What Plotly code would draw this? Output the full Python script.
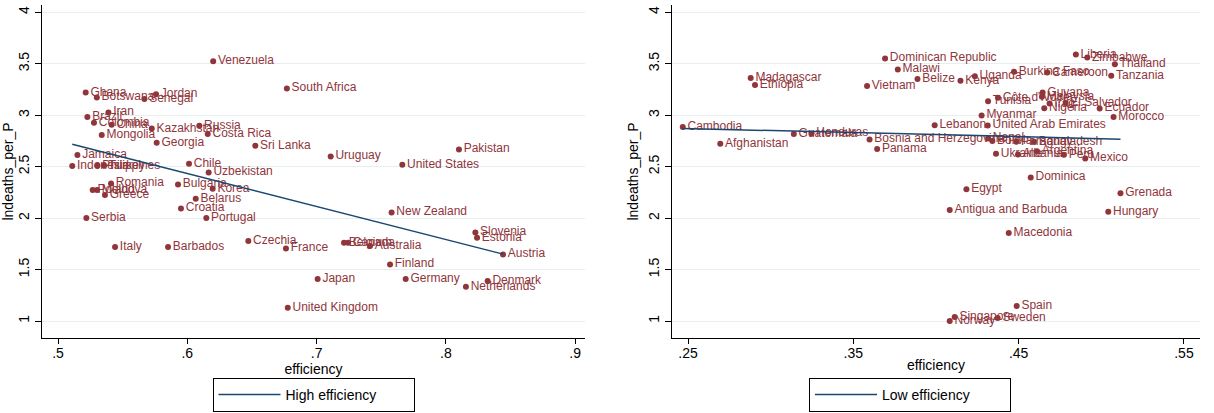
import plotly.graph_objects as go

# ---------------- data: high efficiency panel ----------------
high_countries = ["Venezuela", "South Africa", "Ghana", "Botswana", "Jordan", "Senegal",
                  "Iran", "Brazil", "Colombia", "China", "Mongolia", "Kazakhstan", "Russia",
                  "Costa Rica", "Georgia", "Sri Lanka", "Uruguay", "Jamaica", "Indonesia",
                  "Philippines", "Turkey", "Chile", "Uzbekistan", "Romania", "Bulgaria",
                  "Korea", "Belarus", "Croatia", "Portugal", "Serbia", "Poland", "Moldova",
                  "Greece", "Italy", "Barbados", "Czechia", "France", "New Zealand",
                  "Slovenia", "Estonia", "Austria", "Belgium", "Canada", "Australia",
                  "Finland", "Germany", "Netherlands", "Denmark", "Japan", "United Kingdom",
                  "Pakistan", "United States"]
high_eff = [0.620, 0.677, 0.5214, 0.530, 0.5758, 0.5668,
            0.539, 0.5227, 0.5278, 0.5415, 0.5338, 0.5725, 0.6093,
            0.6158, 0.5763, 0.6526, 0.7109, 0.515, 0.511,
            0.5305, 0.5356, 0.6013, 0.6165, 0.541, 0.5928,
            0.6196, 0.6065, 0.5951, 0.6147, 0.5219, 0.5268, 0.5302,
            0.5363, 0.5441, 0.5851, 0.6472, 0.6763, 0.758,
            0.8228, 0.8241, 0.8442, 0.7212, 0.7243, 0.7413,
            0.7568, 0.7689, 0.8155, 0.8323, 0.7008, 0.6777,
            0.8101, 0.7663]
high_deaths = [3.524, 3.259, 3.220, 3.172, 3.204, 3.158,
               3.026, 2.983, 2.925, 2.906, 2.806, 2.870, 2.896,
               2.818, 2.731, 2.702, 2.599, 2.612, 2.505,
               2.510, 2.510, 2.527, 2.443, 2.337, 2.327,
               2.284, 2.187, 2.094, 2.000, 2.000, 2.272, 2.272,
               2.223, 1.718, 1.718, 1.777, 1.705, 2.055,
               1.861, 1.809, 1.647, 1.760, 1.760, 1.728,
               1.550, 1.408, 1.333, 1.388, 1.408, 1.129,
               2.667, 2.517]
high_fit_x = [0.511, 0.8442]
high_fit_y = [2.718, 1.650]

# ---------------- data: low efficiency panel ----------------
low_countries = ["Dominican Republic", "Malawi", "Belize", "Madagascar", "Ethiopia", "Vietnam",
                 "Cambodia", "Afghanistan", "Guatemala", "Honduras", "Bosnia and Herzegovina",
                 "Panama", "Lebanon", "Kenya", "Uganda", "Burkina Faso", "Cameroon", "Liberia",
                 "Zimbabwe", "Thailand", "Tanzania", "Côte d'Ivoire", "Tunisia", "Guyana",
                 "Malaysia", "Nigeria", "Iraq", "El Salvador", "Ecuador", "Morocco", "Myanmar",
                 "United Arab Emirates", "Nepal", "Bolivia", "Paraguay", "Bangladesh",
                 "Ukraine", "Albania", "Argentina", "Peru", "Mexico", "Dominica", "Egypt",
                 "Antigua and Barbuda", "Grenada", "Hungary", "Macedonia", "Spain",
                 "Singapore", "Norway", "Sweden"]
low_eff = [0.3692, 0.3769, 0.3888, 0.2879, 0.2905, 0.3583,
           0.2468, 0.2695, 0.3140, 0.3247, 0.3598,
           0.3644, 0.3992, 0.4148, 0.4235, 0.4472, 0.4673, 0.4846,
           0.4915, 0.5082, 0.5060, 0.4375, 0.4315, 0.4645,
           0.4641, 0.4655, 0.4687, 0.4784, 0.4990, 0.5074, 0.4276,
           0.4313, 0.4315, 0.4341, 0.4486, 0.4593,
           0.4363, 0.4496, 0.4611, 0.4774, 0.4903, 0.4573, 0.4184,
           0.4083, 0.5116, 0.5042, 0.4440, 0.4488,
           0.4113, 0.4083, 0.4373]
low_deaths = [3.551, 3.444, 3.350, 3.362, 3.294, 3.282,
              2.886, 2.721, 2.816, 2.822, 2.764,
              2.670, 2.903, 3.333, 3.379, 3.421, 3.414, 3.589,
              3.560, 3.495, 3.382, 3.168, 3.136, 3.220,
              3.178, 3.068, 3.112, 3.117, 3.065, 2.981, 2.997,
              2.900, 2.774, 2.748, 2.741, 2.741,
              2.624, 2.618, 2.650, 2.615, 2.580, 2.395, 2.279,
              2.078, 2.240, 2.061, 1.854, 1.146,
              1.039, 1.000, 1.029]
low_fit_x = [0.2468, 0.5116]
low_fit_y = [2.871, 2.767]

# ---------------- tick labels ----------------
y_ticks = [1, 1.5, 2, 2.5, 3, 3.5, 4]
y_ticktext = ["1", "1.5", "2", "2.5", "3", "3.5", "4"]
high_xticks = [0.5, 0.6, 0.7, 0.8, 0.9]
high_xticktext = [".5", ".6", ".7", ".8", ".9"]
low_xticks = [0.25, 0.35, 0.45, 0.55]
low_xticktext = [".25", ".35", ".45", ".55"]

MAROON = "#90353b"
NAVY = "#1a476f"
GRID = "#e6eef0"
FONT = "Liberation Sans, Arial, sans-serif"

W, H = 1214, 413

fig = go.Figure()

fig.add_trace(go.Scatter(
    x=high_eff, y=high_deaths, text=high_countries, mode="markers+text",
    textposition="middle right", marker=dict(color=MAROON, size=6),
    textfont=dict(color=MAROON, size=12, family=FONT), cliponaxis=False,
    showlegend=False, xaxis="x", yaxis="y", hoverinfo="text"))
fig.add_trace(go.Scatter(
    x=high_fit_x, y=high_fit_y, mode="lines", line=dict(color=NAVY, width=1.5),
    name="High efficiency", xaxis="x", yaxis="y", legend="legend"))

fig.add_trace(go.Scatter(
    x=low_eff, y=low_deaths, text=low_countries, mode="markers+text",
    textposition="middle right", marker=dict(color=MAROON, size=6),
    textfont=dict(color=MAROON, size=12, family=FONT), cliponaxis=False,
    showlegend=False, xaxis="x2", yaxis="y2", hoverinfo="text"))
fig.add_trace(go.Scatter(
    x=low_fit_x, y=low_fit_y, mode="lines", line=dict(color=NAVY, width=1.5),
    name="Low efficiency", xaxis="x2", yaxis="y2", legend="legend2"))

ydom = [1 - 338 / H, 1 - 5 / H]
yrange = [0.835, 4.07]

common_x = dict(showline=True, linecolor="black", linewidth=1.2, ticks="outside",
                ticklen=5, tickcolor="black", showgrid=False, zeroline=False,
                ticklabelstandoff=-3,
                tickfont=dict(size=14, color="black", family=FONT),
                title=dict(text="efficiency", font=dict(size=14, color="black", family=FONT),
                           standoff=0))
common_y = dict(showline=True, linecolor="black", linewidth=1.2, ticks="outside",
                ticklen=6, tickcolor="black", showgrid=True, gridcolor=GRID, gridwidth=1,
                zeroline=False, tickangle=-90, range=yrange, domain=ydom,
                tickvals=y_ticks, ticktext=y_ticktext,
                tickfont=dict(size=14, color="black", family=FONT),
                title=dict(text="lndeaths_per_P", font=dict(size=14, color="black", family=FONT),
                           standoff=4))

legend_style = dict(xanchor="center", yanchor="middle", orientation="h",
                    bordercolor="black", borderwidth=1, bgcolor="white",
                    font=dict(size=14, color="black", family=FONT),
                    itemwidth=62, entrywidth=123, entrywidthmode="pixels")

fig.update_layout(
    width=W, height=H,
    margin=dict(l=0, r=0, t=0, b=0),
    paper_bgcolor="white", plot_bgcolor="white",
    font=dict(family=FONT, color="black"),
    xaxis=dict(domain=[42 / W, 585 / W], range=[0.4876, 0.9076],
               tickvals=high_xticks, ticktext=high_xticktext, anchor="y", **common_x),
    yaxis=dict(anchor="x", **common_y),
    xaxis2=dict(domain=[672 / W, 1200 / W], range=[0.2403, 0.5597],
                tickvals=low_xticks, ticktext=low_xticktext, anchor="y2", **common_x),
    yaxis2=dict(anchor="x2", **common_y),
    legend=dict(x=313.5 / W, y=1 - 395 / H, **legend_style),
    legend2=dict(x=910 / W, y=1 - 395 / H, **legend_style),
)

fig.write_html("out.html", config={"displayModeBar": False},
               post_script="document.body.style.margin='0';")
